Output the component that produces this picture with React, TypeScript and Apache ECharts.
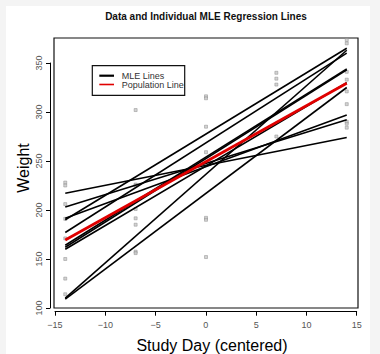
import React, { useEffect, useRef } from "react";
import * as echarts from "echarts";

const DAY_MIN = -14;
const DAY_MAX = 14;
const MLE_START = [217, 203, 191.5, 190, 177, 164, 162, 160, 110, 109];
const MLE_END = [274, 292, 297, 365, 360, 344, 343, 330, 363, 325];
const POP_START = 169.4;
const POP_END = 329.3;

const PTS_DAY_M14 = [228, 225, 206, 191, 171, 150, 130, 114];
const PTS_DAY_M7 = [302, 226, 225, 201, 191.5, 185, 157.5, 156];
const PTS_DAY_0 = [316, 314, 285, 259, 192, 190, 152];
const PTS_DAY_7 = [340, 334, 328, 275];
const PTS_DAY_14 = [373.5, 370, 341, 333, 321, 308, 290, 288, 284];

const X_TICKS = [-15, -10, -5, 0, 5, 10, 15];
const Y_TICKS = [100, 150, 200, 250, 300, 350];

const TITLE = "Data and Individual MLE Regression Lines";
const X_TITLE = "Study Day (centered)";
const Y_TITLE = "Weight";
const LEGEND = ["MLE Lines", "Population Line"];

const FONT = "Liberation Sans, Arial, Helvetica, sans-serif";

export default function App() {
  const ref = useRef<HTMLDivElement>(null);
  useEffect(() => {
    document.body.style.margin = "0";
    const chart = echarts.init(ref.current!, null, { renderer: "svg" });
    const points: number[][] = [];
    const add = (d: number, arr: number[]) => arr.forEach((v) => points.push([d, v]));
    add(-14, PTS_DAY_M14);
    add(-7, PTS_DAY_M7);
    add(0, PTS_DAY_0);
    add(7, PTS_DAY_7);
    add(14, PTS_DAY_14);

    const mleSeries = MLE_START.map((s, i) => ({
      type: "line",
      name: LEGEND[0],
      xAxisIndex: 0,
      yAxisIndex: 0,
      data: [
        [DAY_MIN, s],
        [DAY_MAX, MLE_END[i]],
      ],
      symbol: "none",
      silent: true,
      lineStyle: { color: "#000", width: 1.6 },
      z: 3,
    }));

    const minus = (v: number) => (v < 0 ? "\u2212" + Math.abs(v) : String(v));

    chart.setOption({
      animation: false,
      backgroundColor: "#f4f4f4",
      textStyle: { fontFamily: FONT },
      grid: [
        { left: 54, right: 22, top: 38, bottom: 46, show: true, backgroundColor: "#fff", borderColor: "#111", borderWidth: 1.2 },
        { left: 50, width: 1, top: 63, bottom: 46 },
        { left: 55, right: 23.3, top: 300, bottom: 42.3 },
      ],
      xAxis: [
        { type: "value", gridIndex: 0, min: -15.12, max: 15.12, show: false },
        { type: "value", gridIndex: 1, min: 0, max: 1, show: false },
        {
          type: "value",
          gridIndex: 2,
          min: X_TICKS[0],
          max: X_TICKS[X_TICKS.length - 1],
          interval: 5,
          position: "bottom",
          axisLine: { show: true, lineStyle: { color: "#000", width: 1 } },
          axisTick: { show: true, length: 4, lineStyle: { color: "#000" } },
          splitLine: { show: false },
          axisLabel: { color: "#555", fontSize: 9, margin: 9, formatter: minus, fontFamily: FONT },
        },
      ],
      yAxis: [
        { type: "value", gridIndex: 0, min: 100, max: 375.5, show: false },
        {
          type: "value",
          gridIndex: 1,
          min: Y_TICKS[0],
          max: Y_TICKS[Y_TICKS.length - 1],
          interval: 50,
          position: "left",
          axisLine: { show: true, lineStyle: { color: "#000", width: 1 } },
          axisTick: { show: true, length: 4, lineStyle: { color: "#000" } },
          splitLine: { show: false },
          axisLabel: { color: "#555", fontSize: 9, margin: 7, rotate: 90, fontFamily: FONT },
        },
        { type: "value", gridIndex: 2, show: false },
      ],
      series: [
        {
          type: "scatter",
          xAxisIndex: 0,
          yAxisIndex: 0,
          data: points,
          symbol: "rect",
          symbolSize: 3,
          itemStyle: { color: "#c8c8c8", borderColor: "#888", borderWidth: 0.6 },
          silent: true,
          z: 2,
        },
        ...mleSeries,
        {
          type: "line",
          name: LEGEND[1],
          xAxisIndex: 0,
          yAxisIndex: 0,
          data: [
            [DAY_MIN, POP_START],
            [DAY_MAX, POP_END],
          ],
          symbol: "none",
          silent: true,
          lineStyle: { color: "#e00000", width: 2.8 },
          z: 4,
        },
      ],
      graphic: [
        { type: "rect", shape: { x: 6, y: 6, width: 364, height: 348 }, style: { fill: "#fff" }, z: -10, silent: true },
        {
          type: "text",
          x: 206,
          y: 16,
          style: { text: TITLE, font: "bold 10px " + FONT, fill: "#111", textAlign: "center", textVerticalAlign: "middle" },
        },
        {
          type: "text",
          x: 212,
          y: 345,
          style: { text: X_TITLE, font: "16px " + FONT, fill: "#000", textAlign: "center", textVerticalAlign: "middle" },
        },
        {
          type: "text",
          x: 23,
          y: 168,
          rotation: Math.PI / 2,
          style: { text: Y_TITLE, font: "16px " + FONT, fill: "#000", textAlign: "center", textVerticalAlign: "middle" },
        },
        {
          type: "group",
          z: 10,
          children: [
            { type: "rect", shape: { x: 92.3, y: 65.7, width: 92.4, height: 29.6 }, style: { fill: "#fff", stroke: "#111", lineWidth: 1.2 } },
            { type: "line", shape: { x1: 99.3, y1: 75.7, x2: 114, y2: 75.7 }, style: { stroke: "#000", lineWidth: 2.2 } },
            { type: "line", shape: { x1: 99.3, y1: 84.5, x2: 114, y2: 84.5 }, style: { stroke: "#e00000", lineWidth: 1.6 } },
            { type: "text", x: 121.7, y: 75.7, style: { text: LEGEND[0], font: "9px " + FONT, fill: "#333", textVerticalAlign: "middle" } },
            { type: "text", x: 121.7, y: 84.5, style: { text: LEGEND[1], font: "9px " + FONT, fill: "#333", textVerticalAlign: "middle" } },
          ],
        },
      ],
    });
    return () => chart.dispose();
  }, []);
  return <div ref={ref} style={{ position: "fixed", left: 0, top: 0, width: 380, height: 354 }} />;
}
